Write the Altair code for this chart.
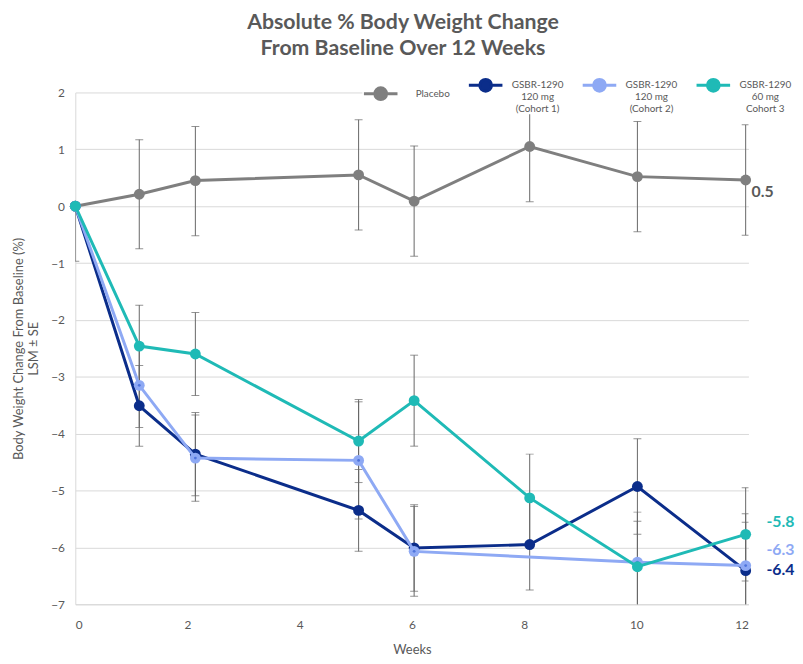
import altair as alt
import pandas as pd

# ---- data ----
series_names = ["Placebo", "GSBR-1290|120 mg|(Cohort 1)", "GSBR-1290|120 mg|(Cohort 2)", "GSBR-1290|60 mg|Cohort 3"]
series_colors = ["#7f7f7f", "#0b2d8a", "#8ea9f4", "#1fbab6"]

weeks_all = [0, 1.14, 2.14, 5.05, 6.04, 8.1, 10.02, 11.95]
weeks_c2 = [0, 1.14, 2.14, 5.05, 6.04, 10.02, 11.95]

placebo = [0, 0.21, 0.45, 0.55, 0.09, 1.05, 0.52, 0.46]
placebo_se_up = [0, 0.96, 0.95, 0.97, 0.97, 0.97, 0.97, 0.97]
placebo_se_dn = [0.97, 0.96, 0.97, 0.97, 0.97, 0.97, 0.97, 0.97]

cohort1 = [0, -3.51, -4.36, -5.35, -6.01, -5.95, -4.93, -6.41]
cohort1_se = [0, 0.71, 0.73, 0.72, 0.76, 0.80, 0.84, 0.85]

cohort2 = [0, -3.15, -4.43, -4.47, -6.07, -6.26, -6.32]
cohort2_se = [0, 0.74, 0.76, 1.03, 0.79, 0.88, 0.91]

cohort3 = [0, -2.46, -2.60, -4.13, -3.42, -5.13, -6.34, -5.77]
cohort3_se = [0, 0.72, 0.73, 0.73, 0.80, 0.77, 0.80, 0.82]

end_labels = ["0.5", "-5.8", "-6.3", "-6.4"]
end_label_series = [0, 3, 2, 1]

y_ticks = [-7, -6, -5, -4, -3, -2, -1, 0, 1, 2]
x_ticks = [0, 2, 4, 6, 8, 10, 12]

# ---- build table ----
rows = []
def add(idx, xs, ys, up, dn):
    for i, (x, y, u, d) in enumerate(zip(xs, ys, up, dn)):
        rows.append({"series": series_names[idx], "order": idx, "week": x, "value": y,
                     "hi": y + u, "lo": y - d, "has_up": u > 0, "has_dn": d > 0})

add(0, weeks_all, placebo, placebo_se_up, placebo_se_dn)
add(1, weeks_all, cohort1, cohort1_se, cohort1_se)
add(2, weeks_c2, cohort2, cohort2_se, cohort2_se)
add(3, weeks_all, cohort3, cohort3_se, cohort3_se)
df = pd.DataFrame(rows)
df_err = df[df["has_up"] | df["has_dn"]]

FONT = "Lato"
GREY = "#595959"
ERR = "#666666"

xscale = alt.Scale(domain=[0, 12], nice=False)
yscale = alt.Scale(domain=[-7, 2], nice=False)

x_enc = alt.X("week:Q", scale=xscale, title="Weeks",
              axis=alt.Axis(values=x_ticks, format="d", grid=False, ticks=False, labelPadding=15,
                            domainColor="#d9d9d9", titlePadding=14))
y_enc = alt.Y("value:Q", scale=yscale,
              title=["Body Weight Change From Baseline  (%)", "LSM ± SE"],
              axis=alt.Axis(values=y_ticks, format="d", grid=True, gridColor="#d9d9d9", ticks=False,
                            labelPadding=11, domainColor="#d9d9d9", titlePadding=10))

color = alt.Color("series:N",
                  scale=alt.Scale(domain=series_names, range=series_colors),
                  legend=alt.Legend(title=None, orient="none", direction="horizontal",
                                    legendX=290, legendY=-26,
                                    labelExpr="split(datum.label, '|')",
                                    symbolType="M-1,0L-0.35,0M0.35,0L1,0M0.35,0A0.35,0.35,0,1,1,-0.35,0A0.35,0.35,0,1,1,0.35,0Z",
                                    symbolSize=1150, symbolStrokeWidth=3,
                                    labelFontSize=10, labelColor=GREY, labelFont=FONT,
                                    labelAlign="center", labelOffset=34,
                                    labelLimit=200, columnPadding=12,
                                    fillColor="white"))

err_rule = alt.Chart(df_err).mark_rule(color=ERR, strokeWidth=1, clip=True).encode(
    x=alt.X("week:Q", scale=xscale), y=alt.Y("lo:Q", scale=yscale), y2="hi:Q")
cap_hi = alt.Chart(df_err[df_err["has_up"]]).mark_tick(color=ERR, orient="horizontal", size=8, thickness=1, clip=True).encode(
    x=alt.X("week:Q", scale=xscale), y=alt.Y("hi:Q", scale=yscale))
cap_lo = alt.Chart(df_err[df_err["has_dn"]]).mark_tick(color=ERR, orient="horizontal", size=8, thickness=1, clip=True).encode(
    x=alt.X("week:Q", scale=xscale), y=alt.Y("lo:Q", scale=yscale))

layers = [err_rule, cap_hi, cap_lo]
for i, name in enumerate(series_names):
    sub = df[df["series"] == name]
    c = alt.Chart(sub)
    line = c.mark_line(strokeWidth=3).encode(x=x_enc, y=y_enc, color=color)
    pts = c.mark_point(filled=True, size=120, opacity=1).encode(x=x_enc, y=y_enc, color=color)
    layers += [line, pts]
    if i == 2:
        dots = c.mark_point(filled=True, size=8, opacity=1, color="#4f74dc").encode(x=x_enc, y=y_enc)
        layers.append(dots)

# end labels
offsets = {0: (6, 12), 3: (21, -12), 2: (21, -16), 1: (21, -1)}
for txt, si in zip(end_labels, end_label_series):
    sub = df[df["series"] == series_names[si]].tail(1).assign(label=txt)
    dx, dy = offsets[si]
    t = alt.Chart(sub).mark_text(align="left", baseline="middle", dx=dx, dy=dy, fontSize=16,
                                 fontWeight="bold", font=FONT, color=series_colors[si] if si != 0 else GREY).encode(
        x=alt.X("week:Q", scale=xscale), y=alt.Y("value:Q", scale=yscale), text="label:N")
    layers.append(t)

chart = alt.layer(*layers).properties(
    width=795, height=652,
    autosize=alt.AutoSizeParams(type="fit", contains="padding"),
    title=alt.TitleParams(["Absolute % Body Weight Change", "From Baseline Over 12 Weeks"],
                          fontSize=21.5, fontWeight="bold", color=GREY, font=FONT,
                          lineHeight=27, offset=27, anchor="middle", dx=-9),
    padding={"left": 5, "top": 0, "right": 0, "bottom": 0},
).configure_view(stroke=None).configure_axis(
    labelFont=FONT, titleFont=FONT, labelColor=GREY, titleColor=GREY,
    labelFontSize=12, titleFontSize=13, titleFontWeight="normal"
)

chart.save("out.html", embed_options={"renderer": "svg", "actions": False})
